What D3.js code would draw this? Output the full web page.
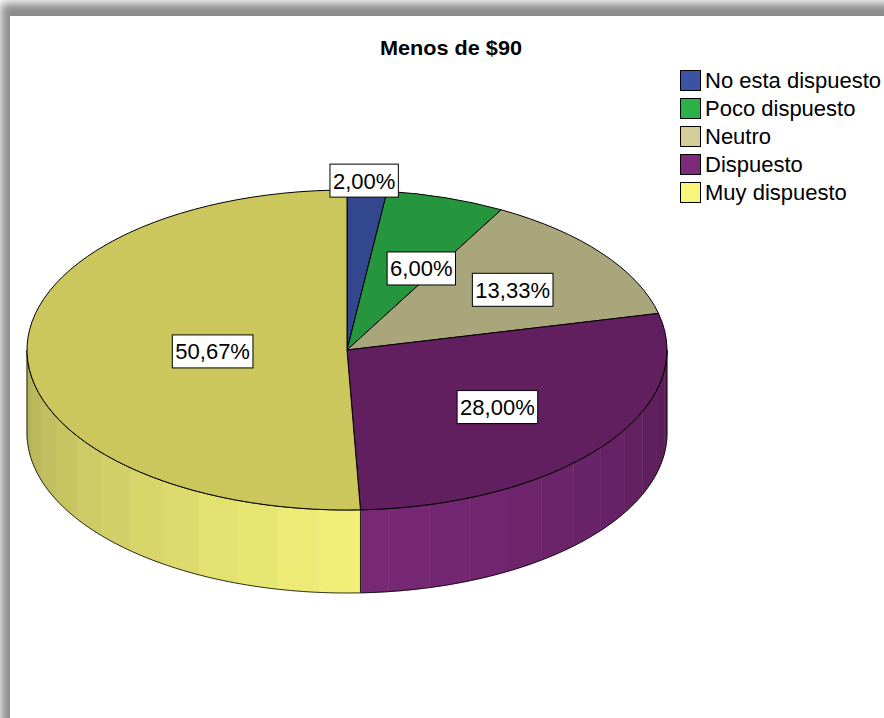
<!DOCTYPE html>
<html>
<head>
<meta charset="utf-8">
<script src="https://cdn.jsdelivr.net/npm/d3@7"></script>
<style>
  html, body { margin: 0; padding: 0; background: #fff; }
  svg { display: block; font-family: "Liberation Sans", Arial, sans-serif; }
</style>
</head>
<body>
<div id="chart"></div>
<script>
// data
const title = "Menos de $90";
const categories = ["No esta dispuesto", "Poco dispuesto", "Neutro", "Dispuesto", "Muy dispuesto"];
const percents = [2.00, 6.00, 13.33, 28.00, 50.67];
const topColors = ["#33478f", "#26963e", "#aaa67c", "#611f5f", "#cbc75c"];
const legendColors = ["#3a53a4", "#2bb04a", "#d4cd99", "#7c2a7a", "#f7f57a"];
// label placement: radial fraction and angle shift (deg) from slice middle
const labelR = [1.06, 0.56, 0.64, 0.59, 0.42];
const labelShift = [-0.7, 6.5, 1.2, 0, 0];

const width = 884, height = 718;
const cx = 347, cy = 350, rx = 320, ry = 160, depth = 83;

const svg = d3.select("#chart").append("svg")
  .attr("width", width)
  .attr("height", height);

// frame with shadow
const defs = svg.append("defs");
defs.append("filter")
  .attr("id", "blur")
  .attr("x", "-20%").attr("y", "-20%")
  .attr("width", "140%").attr("height", "140%")
  .append("feGaussianBlur")
  .attr("stdDeviation", 5);

svg.append("rect")
  .attr("x", 1).attr("y", 3)
  .attr("width", 960).attr("height", 800)
  .attr("fill", "#8c8c8c")
  .attr("filter", "url(#blur)");
svg.append("rect")
  .attr("x", 10).attr("y", 16)
  .attr("width", 900).attr("height", 800)
  .attr("fill", "#fff");

svg.append("text")
  .attr("x", 451)
  .attr("y", 55)
  .attr("text-anchor", "middle")
  .attr("font-weight", "bold")
  .attr("font-size", 21)
  .attr("textLength", 142)
  .attr("lengthAdjust", "spacingAndGlyphs")
  .text(title);

const pie = d3.pie().sort(null).value(d => d);
const arcs = pie(percents);

function pt(t, dz = 0) {
  return [cx + rx * Math.sin(t), cy - ry * Math.cos(t) + dz];
}

function sidePath(a, b) {
  const n = Math.max(2, Math.ceil((b - a) / 0.02));
  const top = d3.range(n + 1).map(i => pt(a + (b - a) * i / n));
  const bot = d3.range(n + 1).map(i => pt(b - (b - a) * i / n, depth));
  return d3.line()(top.concat(bot)) + "Z";
}

// shade factor for the side: brightest near the front, darker toward the sides
function shade(i, t) {
  const k = Math.min(1, Math.abs(t - Math.PI) / (Math.PI / 2));
  const base = d3.rgb(legendColors[i]);
  const bright = base.darker(0.06);
  const dark = base.darker(0.95);
  return d3.interpolateRgb(bright, dark)(Math.pow(k, 1.1));
}

const sideG = svg.append("g");
const step = Math.PI / 24;
arcs.forEach((d, i) => {
  const a = Math.max(d.startAngle, Math.PI / 2);
  const b = Math.min(d.endAngle, 3 * Math.PI / 2);
  if (a >= b) return;
  // strips
  let t = a;
  while (t < b) {
    const t2 = Math.min(b, t + step);
    const c = shade(i, (t + t2) / 2);
    sideG.append("path")
      .attr("d", sidePath(t, t2))
      .attr("fill", c)
      .attr("stroke", c)
      .attr("stroke-width", 0.6);
    t = t2;
  }
  sideG.append("path")
    .attr("d", sidePath(a, b))
    .attr("fill", "none")
    .attr("stroke", "#000")
    .attr("stroke-width", 0.8);
});

// top faces
const topG = svg.append("g");
topG.selectAll("path")
  .data(arcs)
  .join("path")
  .attr("d", d => {
    const p0 = pt(d.startAngle), p1 = pt(d.endAngle);
    const large = d.endAngle - d.startAngle > Math.PI ? 1 : 0;
    return `M${cx},${cy}L${p0[0]},${p0[1]}A${rx},${ry} 0 ${large} 1 ${p1[0]},${p1[1]}Z`;
  })
  .attr("fill", (d, i) => topColors[i])
  .attr("stroke", "#000")
  .attr("stroke-width", 1)
  .attr("stroke-linejoin", "round");

// labels
const fmt = v => v.toFixed(2).replace(".", ",") + "%";
const labG = svg.append("g");
arcs.forEach((d, i) => {
  const mid = (d.startAngle + d.endAngle) / 2 + labelShift[i] * Math.PI / 180;
  const x = cx + rx * labelR[i] * Math.sin(mid);
  const y = cy - ry * labelR[i] * Math.cos(mid);
  const g = labG.append("g");
  const txt = g.append("text")
    .attr("x", x)
    .attr("y", y)
    .attr("dy", "0.36em")
    .attr("text-anchor", "middle")
    .attr("font-size", 22)
    .text(fmt(percents[i]));
  const bb = txt.node().getBBox();
  g.insert("rect", "text")
    .attr("x", bb.x - 3)
    .attr("y", y - 16.5)
    .attr("width", bb.width + 6)
    .attr("height", 33)
    .attr("fill", "#fff")
    .attr("stroke", "#000")
    .attr("stroke-width", 1);
});

// legend
const legend = svg.append("g").attr("transform", "translate(680, 70)");
const rows = legend.selectAll("g")
  .data(categories)
  .join("g")
  .attr("transform", (d, i) => `translate(0, ${i * 28})`);
rows.append("rect")
  .attr("x", 0.5).attr("y", 0.5)
  .attr("width", 20).attr("height", 20)
  .attr("fill", (d, i) => legendColors[i])
  .attr("stroke", "#000")
  .attr("stroke-width", 1);
rows.append("text")
  .attr("x", 25)
  .attr("y", 18)
  .attr("font-size", 22)
  .text(d => d);
</script>
</body>
</html>
